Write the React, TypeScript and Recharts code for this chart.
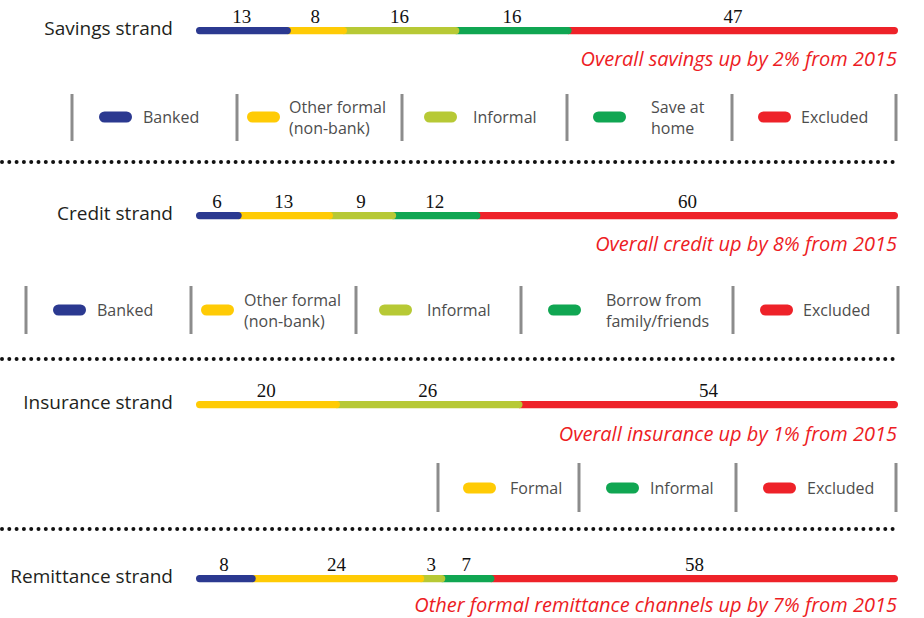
import React from 'react';
import { BarChart, Bar, XAxis, YAxis, LabelList } from 'recharts';

// data
const savingsCategories = ['Banked', 'Other formal (non-bank)', 'Informal', 'Save at home', 'Excluded'];
const savingsValues = [13, 8, 16, 16, 47];
const savingsLegend = ['Banked', 'Other formal\n(non-bank)', 'Informal', 'Save at\nhome', 'Excluded'];

const creditCategories = ['Banked', 'Other formal (non-bank)', 'Informal', 'Borrow from family/friends', 'Excluded'];
const creditValues = [6, 13, 9, 12, 60];
const creditLegend = ['Banked', 'Other formal\n(non-bank)', 'Informal', 'Borrow from\nfamily/friends', 'Excluded'];

const insuranceCategories = ['Formal', 'Informal', 'Excluded'];
const insuranceValues = [20, 26, 54];
const insuranceLegend = ['Formal', 'Informal', 'Excluded'];

const remittanceCategories = ['Banked', 'Other formal', 'Informal', 'Family/friends', 'Excluded'];
const remittanceValues = [8, 24, 3, 7, 58];

const notes = [
  'Overall savings up by 2% from 2015',
  'Overall credit up by 8% from 2015',
  'Overall insurance up by 1% from 2015',
  'Other formal remittance channels up by 7% from 2015',
];

// colours
const BLUE = '#2b3990';
const YELLOW = '#ffcb05';
const LIME = '#b7c935';
const GREEN = '#10a652';
const RED = '#ee2229';

const FIVE = [BLUE, YELLOW, LIME, GREEN, RED];

const SANS = '"Open Sans", "Noto Sans", sans-serif';

function Segment(props: any) {
  const { x, y, width, height, fill, first, last } = props;
  if (width == null || height == null) return null;
  const r = height / 2;
  const xl = Math.min(x, x + width);
  const xr = Math.max(x, x + width) + (last ? 0 : r);
  let d: string;
  if (first) {
    d = `M${xl + r},${y} H${xr - r} A${r},${r} 0 0 1 ${xr - r},${y + height} H${xl + r} A${r},${r} 0 0 1 ${xl + r},${y} Z`;
  } else {
    d = `M${xl},${y} H${xr - r} A${r},${r} 0 0 1 ${xr - r},${y + height} H${xl} Z`;
  }
  return <path d={d} fill={fill} />;
}

function ValueLabel(props: any) {
  const { x, y, width, value } = props;
  return (
    <text
      x={x + width / 2}
      y={y - 4}
      textAnchor="middle"
      fontFamily='"Liberation Serif", "DejaVu Serif", serif'
      fontSize={19}
      fill="#111"
    >
      {value}
    </text>
  );
}

function StrandTick(props: any) {
  const { y, payload } = props;
  return (
    <text x={173} y={y + 4} textAnchor="end" fontFamily={SANS} fontSize={19} fill="#231f20">
      {payload.value}
    </text>
  );
}

function Strand({ name, cats, values, colors, top }: any) {
  const row: Record<string, any> = { name };
  cats.forEach((_: string, i: number) => (row[`k${i}`] = values[i]));
  const n = cats.length;
  const order = cats.map((_: string, i: number) => i).reverse();
  return (
    <div style={{ position: 'absolute', left: 0, top }}>
      <BarChart
        width={924}
        height={60}
        data={[row]}
        layout="vertical"
        margin={{ top: 26, right: 26, bottom: 26, left: 0 }}
      >
        <XAxis type="number" domain={[0, 100]} reversed hide />
        <YAxis
          type="category"
          dataKey="name"
          width={196}
          axisLine={false}
          tickLine={false}
          tick={(p: any) => <StrandTick {...p} />}
        />
        {order.map((i: number) => (
          <Bar
            key={i}
            dataKey={`k${i}`}
            name={cats[i]}
            stackId="s"
            fill={colors[i]}
            barSize={8}
            isAnimationActive={false}
            shape={(p: any) => <Segment {...p} first={i === 0} last={i === n - 1} />}
          >
            <LabelList dataKey={`k${i}`} content={(p: any) => <ValueLabel {...p} />} />
          </Bar>
        ))}
      </BarChart>
    </div>
  );
}

function Legend({ labels, colors, seps, swatchX, textX, yTop, yBot, cy }: any) {
  return (
    <g>
      {seps.map((sx: number, i: number) => (
        <line key={`s${i}`} x1={sx} x2={sx} y1={yTop} y2={yBot} stroke="#8c8c8c" strokeWidth={3} />
      ))}
      {labels.map((lab: string, i: number) => {
        const lines = lab.split('\n');
        return (
          <g key={i}>
            <rect x={swatchX[i]} y={cy - 5.5} width={33} height={11} rx={5.5} fill={colors[i]} />
            <text fontFamily={SANS} fontSize={16} fill="#4d4d4d">
              {lines.length === 1 ? (
                <tspan x={textX[i]} y={cy + 6}>{lines[0]}</tspan>
              ) : (
                lines.map((t, j) => (
                  <tspan key={j} x={textX[i]} y={cy - 4 + j * 21}>{t}</tspan>
                ))
              )}
            </text>
          </g>
        );
      })}
    </g>
  );
}

function Dots({ y }: { y: number }) {
  return (
    <line x1={2} x2={897} y1={y} y2={y} stroke="#111" strokeWidth={4} strokeLinecap="round" strokeDasharray="0 7.3" />
  );
}

function Note({ text, y }: { text: string; y: number }) {
  return (
    <text x={897} y={y} textAnchor="end" fontFamily={SANS} fontStyle="italic" fontSize={20} fill="#ed1c24">
      {text}
    </text>
  );
}

export default function App() {
  return (
    <div style={{ position: 'absolute', left: 0, top: 0, width: 924, height: 618, background: '#fff' }}>
      <Strand name="Savings strand" cats={savingsCategories} values={savingsValues} colors={FIVE} top={1} />
      <Strand name="Credit strand" cats={creditCategories} values={creditValues} colors={FIVE} top={186} />
      <Strand name="Insurance strand" cats={insuranceCategories} values={insuranceValues} colors={[YELLOW, LIME, RED]} top={375} />
      <Strand name="Remittance strand" cats={remittanceCategories} values={remittanceValues} colors={FIVE} top={549} />
      <svg width={924} height={618} style={{ position: 'absolute', left: 0, top: 0, pointerEvents: 'none' }}>
        <Note text={notes[0]} y={66} />
        <Note text={notes[1]} y={251} />
        <Note text={notes[2]} y={441} />
        <Note text={notes[3]} y={612} />
        <Legend
          labels={savingsLegend}
          colors={FIVE}
          seps={[72, 237, 402, 567, 732, 896]}
          swatchX={[99, 247, 424, 593, 758]}
          textX={[143, 289, 473, 651, 801]}
          yTop={94}
          yBot={141}
          cy={117}
        />
        <Legend
          labels={creditLegend}
          colors={FIVE}
          seps={[26, 191, 356, 521, 733, 898]}
          swatchX={[53, 201, 379, 548, 760]}
          textX={[97, 244, 427, 606, 803]}
          yTop={286}
          yBot={334}
          cy={310}
        />
        <Legend
          labels={insuranceLegend}
          colors={[YELLOW, GREEN, RED]}
          seps={[438, 579, 736, 896]}
          swatchX={[463, 606, 763]}
          textX={[510, 650, 807]}
          yTop={463}
          yBot={512}
          cy={488}
        />
        <Dots y={162} />
        <Dots y={359} />
        <Dots y={529} />
      </svg>
    </div>
  );
}
